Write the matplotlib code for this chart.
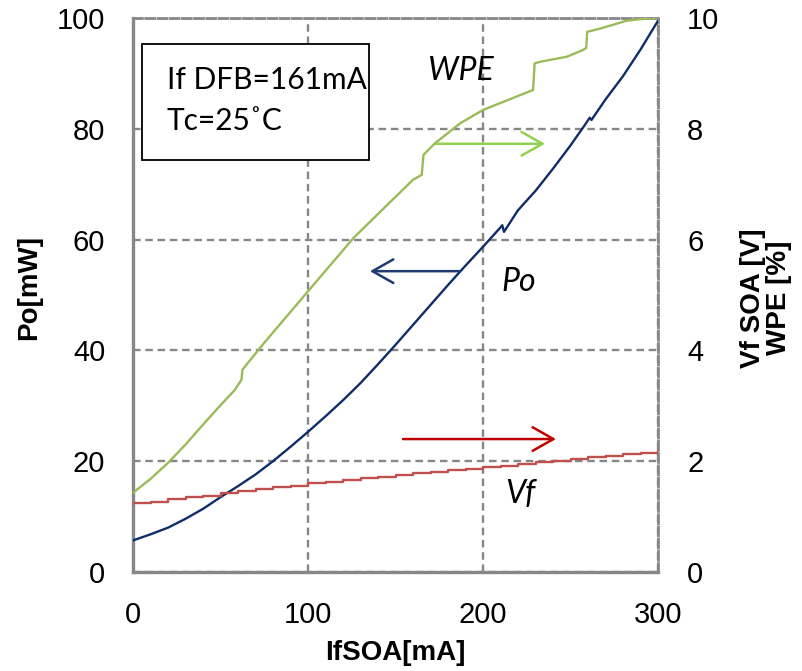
import matplotlib
matplotlib.use("Agg")
import matplotlib.pyplot as plt
from matplotlib.patches import Rectangle

# Po [mW] vs IfSOA [mA] (left axis)
po_x = [0, 10, 20, 30, 40, 50, 60, 70, 80, 90, 100, 110, 120, 130, 140, 150,
        160, 170, 180, 190, 200, 210, 211, 212, 220, 230, 240, 250, 258, 261,
        262, 270, 280, 290, 300]
po_y = [5.7, 6.8, 8.0, 9.6, 11.4, 13.5, 15.5, 17.6, 20.0, 22.6, 25.3, 28.1,
        31.0, 34.1, 37.5, 41.0, 44.6, 48.2, 51.8, 55.3, 58.7, 62.2, 62.6, 61.4,
        65.3, 68.8, 72.8, 77.0, 80.6, 82.0, 81.6, 85.3, 89.5, 94.3, 99.5]

# Vf SOA [V] (right axis)
vf_x = [0, 10, 20, 30, 40, 50, 60, 70, 80, 90, 100, 110, 120, 130, 140, 150,
        160, 170, 180, 190, 200, 210, 220, 230, 240, 250, 260, 270, 280, 290, 300]
vf_y = [1.25, 1.27, 1.31, 1.35, 1.38, 1.42, 1.46, 1.49, 1.53, 1.56, 1.60, 1.63,
        1.66, 1.69, 1.72, 1.75, 1.78, 1.81, 1.84, 1.86, 1.89, 1.92, 1.95, 1.98,
        2.01, 2.04, 2.07, 2.10, 2.13, 2.15, 2.19]

# WPE [%] (right axis)
wpe_x = [0, 10, 20, 30, 40, 50, 58, 62, 62.5, 74, 99, 126, 148, 160, 165, 166,
         172.6, 187, 200, 219, 228.6, 229.5, 232.6, 247.8, 257, 259, 259.5,
         267, 282, 290, 300]
wpe_y = [1.43, 1.68, 1.97, 2.30, 2.66, 3.01, 3.28, 3.47, 3.65, 4.10, 5.03, 6.03,
         6.71, 7.08, 7.17, 7.53, 7.74, 8.10, 8.34, 8.58, 8.70, 9.18, 9.21, 9.30,
         9.42, 9.46, 9.75, 9.81, 9.95, 9.98, 10.0]

x_ticks = [0, 100, 200, 300]
po_ticks = [0, 20, 40, 60, 80, 100]
right_ticks = [0, 2, 4, 6, 8, 10]

grey = "#878787"
tick_font = "Liberation Sans"
note_font = ["Lato", "DejaVu Sans"]

fig = plt.figure(figsize=(8.02, 6.71), dpi=100)
ax = fig.add_axes([133 / 802, 99 / 671, 525 / 802, 554 / 671])
ax2 = ax.twinx()

ax.set_xlim(0, 300)
ax.set_ylim(0, 100)
ax2.set_ylim(0, 10)
ax.set_xticks(x_ticks)
ax.set_yticks(po_ticks)
ax2.set_yticks(right_ticks)

ax.grid(True, color=grey, lw=1.7, linestyle=(0, (3.2, 2.0)))
for s in ["left", "bottom"]:
    ax.spines[s].set_color(grey)
    ax.spines[s].set_linewidth(2.4)
for s in ["top", "right"]:
    ax.spines[s].set_color(grey)
    ax.spines[s].set_linewidth(2.0)
    ax.spines[s].set_linestyle((0, (3.2, 1.2)))
for s in ax2.spines.values():
    s.set_visible(False)

ax.tick_params(axis="both", length=0, labelsize=21)
ax.tick_params(axis="y", pad=20)
ax.tick_params(axis="x", pad=21)
ax2.tick_params(axis="y", length=0, labelsize=21, pad=21)
for lab in ax.get_xticklabels() + ax.get_yticklabels() + ax2.get_yticklabels():
    lab.set_fontfamily(tick_font)

ax.plot(po_x, po_y, color="#0F2D69", lw=1.7, zorder=3)
ax2.plot(vf_x, vf_y, color="#C0504D", lw=1.7, drawstyle="steps-post")
ax2.plot(wpe_x, wpe_y, color="#9BBB59", lw=1.7)

# note box
ax.add_patch(Rectangle((5.1, 74.4), 129.8, 20.9, facecolor="white",
                       edgecolor="black", lw=1.3, zorder=4))
ax.text(19.2, 87.2, "If DFB=161mA", family=note_font, fontsize=21.5,
        va="baseline", zorder=5)
ax.text(19.2, 79.8, "Tc=25˚C", family=note_font, fontsize=21.5,
        va="baseline", zorder=5)

# curve labels
ax.text(168.6, 88.8, "WPE", family=note_font, style="italic", fontsize=23,
        va="baseline")
ax.text(210.7, 50.7, "Po", family=note_font, style="italic", fontsize=23,
        va="baseline")
ax.text(212.6, 12.4, "Vf", family=note_font, style="italic", fontsize=23,
        va="baseline")

# arrows
arrow_style = "->,head_length=15,head_width=8.5"
ax.annotate("", xy=(235.4, 77.3), xytext=(172.6, 77.3),
            arrowprops=dict(arrowstyle=arrow_style, mutation_scale=1,
                            color="#92D050", lw=1.8, shrinkA=0, shrinkB=0))
ax.annotate("", xy=(135.4, 54.3), xytext=(186.9, 54.3),
            arrowprops=dict(arrowstyle=arrow_style, mutation_scale=1,
                            color="#1F3B73", lw=1.8, shrinkA=0, shrinkB=0))
ax.annotate("", xy=(241.7, 24.0), xytext=(154.3, 24.0),
            arrowprops=dict(arrowstyle=arrow_style, mutation_scale=1,
                            color="#C00000", lw=1.8, shrinkA=0, shrinkB=0))

# axis titles
fig.text(29 / 802, 1 - 288 / 671, "Po[mW]", rotation=90, ha="center",
         va="center", fontsize=20, fontweight="bold", family=tick_font)
fig.text(766 / 802, 1 - 298 / 671, "Vf SOA [V]\nWPE [%]", rotation=90,
         ha="center", va="center", fontsize=20, fontweight="bold",
         family=tick_font, linespacing=0.95, multialignment="center")
fig.text(395 / 802, 1 - 653 / 671, "IfSOA[mA]", ha="center", va="center",
         fontsize=20, fontweight="bold", family=tick_font)

fig.savefig("out.png", dpi=100)
